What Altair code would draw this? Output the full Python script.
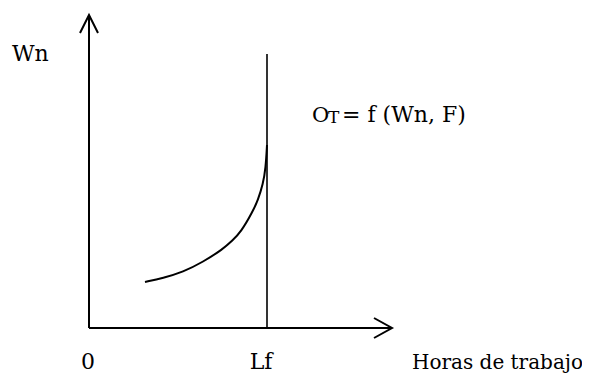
import altair as alt
import pandas as pd

# Curve O_T (diagram units: origin at axes intersection)
curve_x = [5.6, 7.4, 9.4, 11.4, 13.4, 14.3, 15.2, 16.35, 16.9, 17.4, 17.67, 17.8]
curve_y = [4.6, 5.0, 5.6, 6.6, 7.9, 8.7, 9.6, 11.6, 12.8, 14.4, 16.0, 18.3]

# Axes with arrowheads (segment id, x, y)
axis_seg = ["yaxis", "yaxis", "xaxis", "xaxis",
            "yarrow", "yarrow", "yarrow", "xarrow", "xarrow", "xarrow"]
axis_x = [0, 0, 0, 30.3, -0.9, 0, 0.9, 28.5, 30.3, 28.5]
axis_y = [0, 31.3, 0, 0, 29.5, 31.3, 29.5, 1.0, 0, -1.0]

# Vertical line at Lf
lf_x = 17.8
lf_top = 27.4

# Labels
label_text = ["Wn", "0", "Lf", "Horas de trabajo", "O", "T", "= f (Wn, F)"]
label_x = [-7.7, -0.1, 17.2, 32.3, 22.3, 23.9, 25.3]
label_y = [26.7, -4.1, -4.1, -4.1, 20.65, 20.5, 20.65]
label_size = [22, 22, 22, 20, 21, 17, 22]
label_align = ["left", "center", "center", "left", "left", "left", "left"]

FONT = "DejaVu Serif"

xs = alt.Scale(domain=[-8.1, 49.3], nice=False, zero=False)
ys = alt.Scale(domain=[-4.6, 32.0], nice=False, zero=False)

curve_df = pd.DataFrame({"x": curve_x, "y": curve_y, "o": range(len(curve_x))})
axis_df = pd.DataFrame({"seg": axis_seg, "x": axis_x, "y": axis_y,
                        "o": range(len(axis_x))})
lf_df = pd.DataFrame({"x": [lf_x], "y": [0], "y2": [lf_top]})
lab_df = pd.DataFrame({"t": label_text, "x": label_x, "y": label_y,
                       "s": label_size, "a": label_align})

X = lambda f: alt.X(f, scale=xs, axis=None)
Y = lambda f: alt.Y(f, scale=ys, axis=None)

axes = alt.Chart(axis_df).mark_line(color="black", strokeWidth=2, clip=False).encode(
    x=X("x:Q"), y=Y("y:Q"), detail="seg:N", order="o:Q")

curve = alt.Chart(curve_df).mark_line(color="black", strokeWidth=2,
                                      interpolate="basis").encode(
    x=X("x:Q"), y=Y("y:Q"), order="o:Q")

lf = alt.Chart(lf_df).mark_rule(color="black", strokeWidth=1.6).encode(
    x=X("x:Q"), y=Y("y:Q"), y2="y2:Q")

def txt(align):
    d = lab_df[lab_df["a"] == align]
    return alt.Chart(d).mark_text(font=FONT, color="black",
                                  align=align, baseline="alphabetic").encode(
        x=X("x:Q"), y=Y("y:Q"), text="t:N", size=alt.Size("s:Q", scale=None))

chart = alt.layer(axes, curve, lf, txt("left"), txt("center")).properties(
    width=574, height=366, padding=0, autosize=alt.AutoSizeParams(type="none")
).configure_view(stroke=None).configure_text(font=FONT)

chart.save("out.html", embed_options={"renderer": "svg", "actions": False})
